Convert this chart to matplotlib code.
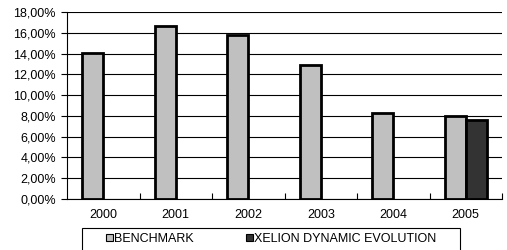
import matplotlib.pyplot as plt
import numpy as np
from matplotlib.patches import Rectangle
from matplotlib.ticker import FuncFormatter, FixedLocator

plt.rcParams['font.family'] = ['Liberation Sans', 'DejaVu Sans']

years = ["2000", "2001", "2002", "2003", "2004", "2005"]
benchmark = [14.1, 16.7, 15.8, 12.9, 8.3, 8.0]
xelion = [np.nan, np.nan, np.nan, np.nan, np.nan, 7.6]

fig = plt.figure(figsize=(5.07, 2.5), dpi=100)
ax = fig.add_axes([67 / 507, 1 - 199 / 250, 435 / 507, 187 / 250])

x = np.arange(len(years))
w = 0.29
ax.bar(x - w / 2, benchmark, w, color="#c0c0c0", edgecolor="black", linewidth=2,
       label="BENCHMARK", zorder=3)
ax.bar(x + w / 2, xelion, w, color="#333333", edgecolor="black", linewidth=2,
       label="XELION DYNAMIC EVOLUTION", zorder=3)

ax.set_xlim(-0.5, len(years) - 0.5)
ax.set_ylim(0, 18)
ax.set_yticks(np.arange(0, 19, 2))
ax.yaxis.set_major_formatter(FuncFormatter(lambda v, p: f"{v:.2f}".replace(".", ",") + "%"))
ax.yaxis.grid(True, color="black", linewidth=0.8, zorder=0)

ax.set_xticks(x)
ax.set_xticklabels(years)
ax.xaxis.set_minor_locator(FixedLocator(np.arange(0.5, len(years), 1)))
ax.tick_params(axis="x", which="major", length=0, pad=7, labelsize=9)
ax.tick_params(axis="x", which="minor", length=4, direction="in", width=0.8)
ax.tick_params(axis="y", length=4, direction="out", width=0.8, labelsize=9, pad=4)

for s in ["top", "right"]:
    ax.spines[s].set_visible(False)
ax.spines["left"].set_linewidth(0.8)
ax.spines["bottom"].set_linewidth(0.8)

# legend frame drawn by hand, it runs past the bottom edge in the original
fig.patches.append(Rectangle((82 / 507, -0.05), 378 / 507, 0.05 + 22 / 250,
                             transform=fig.transFigure, fill=False,
                             edgecolor="black", linewidth=0.8))
leg = fig.legend(loc="center left", bbox_to_anchor=(106 / 507, 1 - 239 / 250), ncol=2,
                 frameon=False, fontsize=9, borderpad=0, borderaxespad=0,
                 handlelength=0.55, handleheight=0.55, handletextpad=0.1,
                 columnspacing=4.2)
for h in leg.legend_handles:
    h.set_linewidth(0.8)

fig.savefig("out.png", dpi=100)
